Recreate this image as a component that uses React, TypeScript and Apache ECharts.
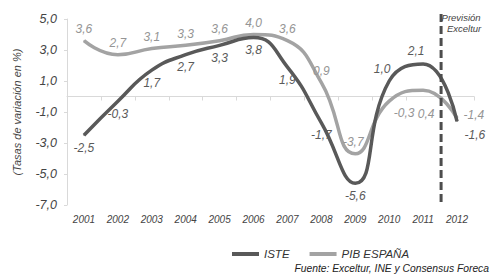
import React, { useEffect, useRef } from 'react';
import * as echarts from 'echarts';

const years = ['2001', '2002', '2003', '2004', '2005', '2006', '2007', '2008', '2009', '2010', '2011', '2012'];
const isteValues = [-2.5, -0.3, 1.7, 2.7, 3.3, 3.8, 1.9, -1.7, -5.6, 1.0, 2.1, -1.6];
const pibValues = [3.6, 2.7, 3.1, 3.3, 3.6, 4.0, 3.6, 0.9, -3.7, -0.3, 0.4, -1.4];
const yMin = -7;
const yMax = 5;
const yInterval = 2;
const forecastFrom = '2012';
const forecastLast = '2011';

const FONT = '"Liberation Sans", Arial, sans-serif';
const fmt = (v: number) => v.toFixed(1).replace('.', ',');

// label placements (style only)
const isteLabelPlace: any[] = [
  { position: 'bottom' }, { position: 'bottom' }, { position: 'bottom' }, { position: 'bottom' },
  { position: 'bottom' }, { position: 'bottom' }, { position: 'bottom' }, { position: 'bottom' },
  { position: 'bottom' }, { position: 'top', offset: [-7, 0] }, { position: 'top', offset: [-7, 0] },
  { position: 'right', offset: [1, 14] },
];
const pibLabelPlace: any[] = [
  { position: 'top' }, { position: 'top' }, { position: 'top' }, { position: 'top' },
  { position: 'top' }, { position: 'top' }, { position: 'top' }, { position: 'top' },
  { position: 'top', offset: [-2, 0] }, { position: 'bottom', offset: [15, 0] }, { position: 'bottom', offset: [3, 12] },
  { position: 'right', offset: [1, -3] },
];

export default function App() {
  const ref = useRef<HTMLDivElement>(null);
  useEffect(() => {
    if (!ref.current) return;
    const chart = echarts.init(ref.current, undefined, { renderer: 'svg' });
    const labelBase = {
      show: true,
      fontFamily: FONT,
      fontStyle: 'italic',
      fontSize: 12,
      distance: 5,
      formatter: (p: any) => fmt(p.value),
    };
    chart.setOption({
      animation: false,
      backgroundColor: '#ffffff',
      textStyle: { fontFamily: FONT },
      grid: { left: 67, right: 16, top: 19, bottom: 69 },
      legend: {
        left: 227,
        top: 243,
        icon: 'rect',
        itemWidth: 27,
        itemHeight: 4,
        itemGap: 20,
        textStyle: { fontFamily: FONT, fontStyle: 'italic', fontSize: 11.5, color: '#333' },
        data: ['ISTE', 'PIB ESPAÑA'],
      },
      xAxis: [
        {
          type: 'category',
          data: years,
          position: 'bottom',
          axisLine: { show: false, onZero: false },
          axisTick: { show: false },
          axisLabel: { fontFamily: FONT, fontStyle: 'italic', fontSize: 10, color: '#444', margin: 9, interval: 0 },
        },
        {
          type: 'category',
          data: years,
          position: 'bottom',
          axisLine: { show: true, onZero: true, lineStyle: { color: '#d9d9d9', width: 1 } },
          axisTick: { show: true, length: 4, interval: 0, lineStyle: { color: '#d9d9d9' } },
          axisLabel: { show: false },
        },
      ],
      yAxis: {
        type: 'value',
        min: yMin,
        max: yMax,
        interval: yInterval,
        name: '(Tasas de variación en %)',
        nameLocation: 'middle',
        nameGap: 45,
        nameTextStyle: { fontFamily: FONT, fontStyle: 'italic', fontSize: 11, color: '#444' },
        axisLine: { show: true, lineStyle: { color: '#d9d9d9' } },
        axisTick: { show: true, length: 3, lineStyle: { color: '#d9d9d9' } },
        splitLine: { show: false },
        axisLabel: {
          fontFamily: FONT,
          fontStyle: 'italic',
          fontSize: 12.5,
          color: '#444',
          margin: 10,
          formatter: (v: number) => fmt(v),
        },
      },
      series: [
        {
          name: 'PIB ESPAÑA',
          type: 'line',
          smooth: 0.5,
          symbol: 'circle',
          symbolSize: 1,
          data: pibValues.map((v, i) => ({ value: v, label: pibLabelPlace[i] })),
          lineStyle: { color: '#a3a3a3', width: 3.5 },
          itemStyle: { color: '#a3a3a3' },
          label: { ...labelBase, color: '#959595' },
          z: 2,
        },
        {
          name: 'ISTE',
          type: 'line',
          smooth: 0.5,
          symbol: 'circle',
          symbolSize: 1,
          data: isteValues.map((v, i) => ({ value: v, label: isteLabelPlace[i] })),
          lineStyle: { color: '#595959', width: 3.5 },
          itemStyle: { color: '#595959' },
          label: { ...labelBase, color: '#5a5a5a', distance: 6 },
          z: 3,
        },
      ],
    });

    const xa = chart.convertToPixel({ xAxisIndex: 0 }, forecastLast) as number;
    const xb = chart.convertToPixel({ xAxisIndex: 0 }, forecastFrom) as number;
    const xm = (xa + xb) / 2 + 1;
    const yTop = (chart.convertToPixel({ yAxisIndex: 0 }, yMax) as number) - 5;
    const yBot = chart.convertToPixel({ yAxisIndex: 0 }, yMin) as number;

    chart.setOption({
      graphic: [
        {
          type: 'line',
          z: 10,
          shape: { x1: xm, y1: yTop, x2: xm, y2: yBot },
          style: { stroke: '#4d4d4d', lineWidth: 3, lineDash: [8, 4] },
        },
        {
          type: 'text',
          z: 11,
          x: xm + 20,
          y: 17,
          style: {
            text: 'Previsión',
            fontFamily: FONT,
            fontStyle: 'italic',
            fontSize: 9.5,
            fill: '#444',
            align: 'center',
            verticalAlign: 'middle',
          },
        },
        {
          type: 'text',
          z: 11,
          x: xm + 23,
          y: 28,
          style: {
            text: 'Exceltur',
            fontFamily: FONT,
            fontStyle: 'italic',
            fontSize: 9.5,
            fill: '#444',
            align: 'center',
            verticalAlign: 'middle',
          },
        },
        {
          type: 'text',
          x: 489,
          y: 268,
          style: {
            text: 'Fuente: Exceltur, INE y Consensus Foreca',
            fontFamily: FONT,
            fontStyle: 'italic',
            fontSize: 10.3,
            fill: '#222',
            align: 'right',
            verticalAlign: 'middle',
          },
        },
      ],
    });

    return () => chart.dispose();
  }, []);
  return (
    <div
      ref={ref}
      style={{ position: 'fixed', left: 0, top: 0, width: 490, height: 274, background: '#fff' }}
    />
  );
}
